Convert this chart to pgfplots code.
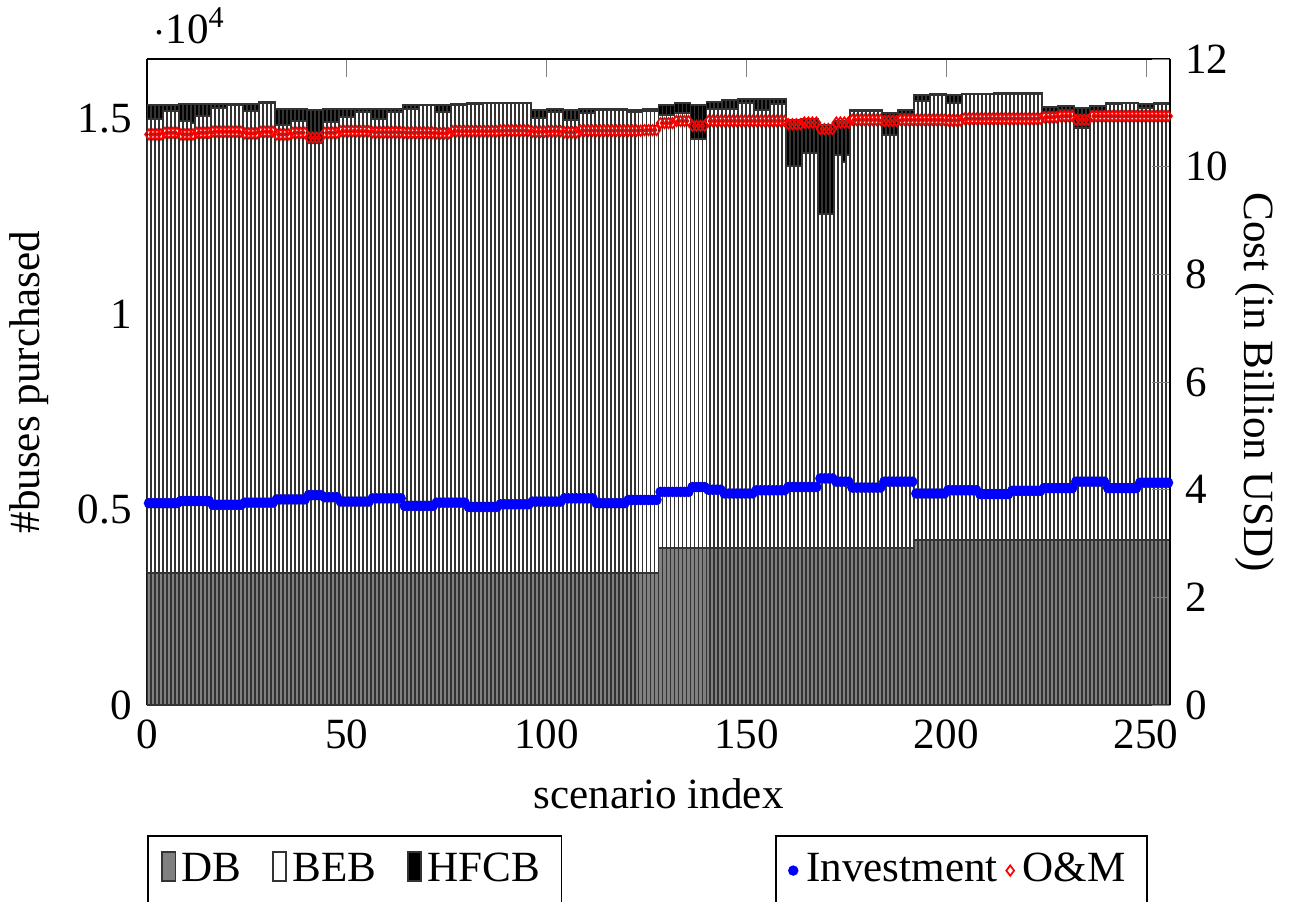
\documentclass[border=0pt]{standalone}
\usepackage{fontspec}
\setmainfont{Liberation Serif}
\usepackage{pgfplots}
\usepackage{pgfplotstable}
\pgfplotsset{compat=1.18}

% scenario results: fleet purchase by bus type and annualised costs (billion USD)
\pgfplotstableread{
x db beb hfcb inv om
0.5 3384 11603 358 3.75 10.60
1.5 3384 11603 358 3.75 10.60
2.5 3384 11603 358 3.75 10.60
3.5 3384 11603 358 3.75 10.60
4.5 3384 11808 153 3.75 10.63
5.5 3384 11808 153 3.75 10.63
6.5 3384 11808 153 3.75 10.63
7.5 3384 11808 153 3.75 10.63
8.5 3384 11552 435 3.79 10.60
9.5 3384 11552 435 3.79 10.60
10.5 3384 11552 435 3.79 10.60
11.5 3384 11501 486 3.79 10.60
12.5 3384 11687 300 3.79 10.63
13.5 3384 11687 300 3.79 10.63
14.5 3384 11687 300 3.79 10.63
15.5 3384 11687 300 3.79 10.63
16.5 3384 11884 103 3.72 10.65
17.5 3384 11884 103 3.72 10.65
18.5 3384 11884 103 3.72 10.65
19.5 3384 11884 103 3.72 10.65
20.5 3384 11979 25 3.72 10.65
21.5 3384 11979 25 3.72 10.65
22.5 3384 11979 25 3.72 10.65
23.5 3384 11979 25 3.72 10.65
24.5 3384 11808 179 3.76 10.62
25.5 3384 11808 179 3.76 10.62
26.5 3384 11808 179 3.76 10.62
27.5 3384 11808 179 3.76 10.62
28.5 3384 12030 15 3.76 10.65
29.5 3384 12030 15 3.76 10.65
30.5 3384 12030 15 3.76 10.65
31.5 3384 12030 15 3.76 10.65
32.5 3384 11450 427 3.82 10.60
33.5 3384 11450 427 3.82 10.60
34.5 3384 11450 427 3.82 10.60
35.5 3384 11450 427 3.82 10.60
36.5 3384 11552 307 3.82 10.63
37.5 3384 11552 307 3.82 10.63
38.5 3384 11552 307 3.82 10.63
39.5 3384 11552 307 3.82 10.63
40.5 3384 10989 844 3.90 10.54
41.5 3384 10989 844 3.90 10.54
42.5 3384 10989 844 3.90 10.54
43.5 3384 10989 844 3.90 10.54
44.5 3384 11526 333 3.86 10.63
45.5 3384 11526 333 3.86 10.63
46.5 3384 11526 333 3.86 10.63
47.5 3384 11526 333 3.86 10.63
48.5 3384 11662 197 3.78 10.66
49.5 3384 11662 197 3.78 10.66
50.5 3384 11662 197 3.78 10.66
51.5 3384 11662 197 3.78 10.66
52.5 3384 11782 95 3.78 10.66
53.5 3384 11782 95 3.78 10.66
54.5 3384 11782 95 3.78 10.66
55.5 3384 11782 95 3.78 10.66
56.5 3384 11603 256 3.84 10.64
57.5 3384 11603 256 3.84 10.64
58.5 3384 11603 256 3.84 10.64
59.5 3384 11603 256 3.84 10.64
60.5 3384 11782 95 3.84 10.64
61.5 3384 11782 95 3.84 10.64
62.5 3384 11782 95 3.84 10.64
63.5 3384 11782 95 3.84 10.64
64.5 3384 11877 102 3.70 10.63
65.5 3384 11877 102 3.70 10.63
66.5 3384 11877 102 3.70 10.63
67.5 3384 11877 102 3.70 10.63
68.5 3384 11961 18 3.70 10.63
69.5 3384 11961 18 3.70 10.63
70.5 3384 11961 18 3.70 10.63
71.5 3384 11961 18 3.70 10.63
72.5 3384 11790 189 3.76 10.62
73.5 3384 11790 189 3.76 10.62
74.5 3384 11790 189 3.76 10.62
75.5 3384 11790 189 3.76 10.62
76.5 3384 11979 15 3.76 10.66
77.5 3384 11979 15 3.76 10.66
78.5 3384 11979 15 3.76 10.66
79.5 3384 11979 15 3.76 10.66
80.5 3384 12004 8 3.68 10.66
81.5 3384 12004 8 3.68 10.66
82.5 3384 12004 8 3.68 10.66
83.5 3384 12004 8 3.68 10.66
84.5 3384 12010 8 3.68 10.66
85.5 3384 12010 8 3.68 10.66
86.5 3384 12010 8 3.68 10.66
87.5 3384 12010 8 3.68 10.66
88.5 3384 12016 8 3.73 10.67
89.5 3384 12016 8 3.73 10.67
90.5 3384 12016 8 3.73 10.67
91.5 3384 12016 8 3.73 10.67
92.5 3384 12026 8 3.73 10.67
93.5 3384 12026 8 3.73 10.67
94.5 3384 12026 8 3.73 10.67
95.5 3384 12026 8 3.73 10.67
96.5 3384 11636 197 3.78 10.65
97.5 3384 11636 197 3.78 10.65
98.5 3384 11636 197 3.78 10.65
99.5 3384 11636 197 3.78 10.65
100.5 3384 11790 69 3.78 10.66
101.5 3384 11790 69 3.78 10.66
102.5 3384 11790 69 3.78 10.66
103.5 3384 11790 69 3.78 10.66
104.5 3384 11577 256 3.84 10.64
105.5 3384 11577 256 3.84 10.64
106.5 3384 11577 256 3.84 10.64
107.5 3384 11577 256 3.84 10.64
108.5 3384 11774 85 3.84 10.67
109.5 3384 11774 85 3.84 10.67
110.5 3384 11774 85 3.84 10.67
111.5 3384 11774 85 3.84 10.67
112.5 3384 11841 18 3.75 10.67
113.5 3384 11841 18 3.75 10.67
114.5 3384 11841 18 3.75 10.67
115.5 3384 11841 18 3.75 10.67
116.5 3384 11841 18 3.75 10.67
117.5 3384 11841 18 3.75 10.67
118.5 3384 11841 18 3.75 10.67
119.5 3384 11841 18 3.75 10.67
120.5 3384 11790 51 3.81 10.67
121.5 3384 11790 51 3.81 10.67
122.5 3384 11790 51 3.81 10.67
123.5 3384 11790 51 3.81 10.67
124.5 3384 11826 33 3.81 10.68
125.5 3384 11826 33 3.81 10.68
126.5 3384 11826 33 3.81 10.68
127.5 3384 11826 33 3.81 10.68
128.5 4015 11074 274 3.96 10.81
129.5 4015 11074 274 3.96 10.81
130.5 4015 11074 274 3.96 10.81
131.5 4015 11074 274 3.96 10.81
132.5 4015 11143 256 3.96 10.85
133.5 4015 11143 256 3.96 10.85
134.5 4015 11143 256 3.96 10.85
135.5 4015 11143 256 3.96 10.85
136.5 4015 10478 852 4.05 10.76
137.5 4015 10478 852 4.05 10.76
138.5 4015 10478 852 4.05 10.76
139.5 4015 10478 852 4.05 10.76
140.5 4015 11228 186 4.00 10.85
141.5 4015 11228 186 4.00 10.85
142.5 4015 11228 186 4.00 10.85
143.5 4015 11228 186 4.00 10.85
144.5 4015 11246 212 3.93 10.85
145.5 4015 11246 212 3.93 10.85
146.5 4015 11246 212 3.93 10.85
147.5 4015 11246 212 3.93 10.85
148.5 4015 11399 84 3.93 10.85
149.5 4015 11399 84 3.93 10.85
150.5 4015 11399 84 3.93 10.85
151.5 4015 11399 84 3.93 10.85
152.5 4015 11202 281 3.99 10.85
153.5 4015 11202 281 3.99 10.85
154.5 4015 11202 281 3.99 10.85
155.5 4015 11202 281 3.99 10.85
156.5 4015 11374 127 3.99 10.85
157.5 4015 11374 127 3.99 10.85
158.5 4015 11374 127 3.99 10.85
159.5 4015 11374 127 3.99 10.85
160.5 4015 9778 1168 4.05 10.79
161.5 4015 9778 1168 4.05 10.79
162.5 4015 9778 1168 4.05 10.79
163.5 4015 9778 1168 4.05 10.79
164.5 4015 10120 870 4.05 10.82
165.5 4015 10120 870 4.05 10.82
166.5 4015 10120 870 4.05 10.82
167.5 4015 10120 870 4.05 10.82
168.5 4015 8560 2271 4.21 10.70
169.5 4015 8560 2271 4.21 10.70
170.5 4015 8560 2271 4.21 10.70
171.5 4015 8560 2271 4.21 10.70
172.5 4015 10069 852 4.15 10.82
173.5 4015 10069 852 4.15 10.82
174.5 4015 9880 1041 4.15 10.82
175.5 4015 10069 852 4.15 10.82
176.5 4015 11177 25 4.04 10.87
177.5 4015 11177 25 4.04 10.87
178.5 4015 11177 25 4.04 10.87
179.5 4015 11177 25 4.04 10.87
180.5 4015 11192 10 4.04 10.87
181.5 4015 11192 10 4.04 10.87
182.5 4015 11192 10 4.04 10.87
183.5 4015 11192 10 4.04 10.87
184.5 4015 10581 562 4.15 10.85
185.5 4015 10581 562 4.15 10.85
186.5 4015 10581 562 4.15 10.85
187.5 4015 10581 562 4.15 10.85
188.5 4015 11118 84 4.15 10.87
189.5 4015 11118 84 4.15 10.87
190.5 4015 11118 84 4.15 10.87
191.5 4015 11118 84 4.15 10.87
192.5 4220 11235 153 3.93 10.87
193.5 4220 11235 153 3.93 10.87
194.5 4220 11235 153 3.93 10.87
195.5 4220 11235 153 3.93 10.87
196.5 4220 11388 18 3.93 10.87
197.5 4220 11388 18 3.93 10.87
198.5 4220 11388 18 3.93 10.87
199.5 4220 11388 18 3.93 10.87
200.5 4220 11176 212 3.99 10.86
201.5 4220 11176 212 3.99 10.86
202.5 4220 11176 212 3.99 10.86
203.5 4220 11176 212 3.99 10.86
204.5 4220 11406 18 3.99 10.89
205.5 4220 11406 18 3.99 10.89
206.5 4220 11406 18 3.99 10.89
207.5 4220 11406 18 3.99 10.89
208.5 4220 11406 18 3.92 10.89
209.5 4220 11406 18 3.92 10.89
210.5 4220 11406 18 3.92 10.89
211.5 4220 11406 18 3.92 10.89
212.5 4220 11424 8 3.92 10.89
213.5 4220 11424 8 3.92 10.89
214.5 4220 11424 8 3.92 10.89
215.5 4220 11424 8 3.92 10.89
216.5 4220 11424 8 3.98 10.89
217.5 4220 11424 8 3.98 10.89
218.5 4220 11424 8 3.98 10.89
219.5 4220 11424 8 3.98 10.89
220.5 4220 11424 8 3.98 10.89
221.5 4220 11424 8 3.98 10.89
222.5 4220 11424 8 3.98 10.89
223.5 4220 11424 8 3.98 10.89
224.5 4220 10920 172 4.03 10.92
225.5 4220 10920 172 4.03 10.92
226.5 4220 10920 172 4.03 10.92
227.5 4220 10920 172 4.03 10.92
228.5 4220 11005 112 4.03 10.94
229.5 4220 11005 112 4.03 10.94
230.5 4220 11005 112 4.03 10.94
231.5 4220 11005 112 4.03 10.94
232.5 4220 10555 493 4.15 10.87
233.5 4220 10555 493 4.15 10.87
234.5 4220 10555 493 4.15 10.87
235.5 4220 10555 493 4.15 10.87
236.5 4220 10946 171 4.15 10.94
237.5 4220 10946 171 4.15 10.94
238.5 4220 10946 171 4.15 10.94
239.5 4220 10946 171 4.15 10.94
240.5 4220 11151 33 4.03 10.94
241.5 4220 11151 33 4.03 10.94
242.5 4220 11151 33 4.03 10.94
243.5 4220 11151 33 4.03 10.94
244.5 4220 11176 8 4.03 10.94
245.5 4220 11176 8 4.03 10.94
246.5 4220 11176 8 4.03 10.94
247.5 4220 11176 8 4.03 10.94
248.5 4220 11066 103 4.13 10.94
249.5 4220 11066 103 4.13 10.94
250.5 4220 11066 103 4.13 10.94
251.5 4220 11066 103 4.13 10.94
252.5 4220 11169 15 4.13 10.94
253.5 4220 11169 15 4.13 10.94
254.5 4220 11169 15 4.13 10.94
255.5 4220 11169 15 4.13 10.94
}\scen

\begin{document}
\begin{tikzpicture}
\begin{axis}[
  scale only axis, width=237.4pt, height=149.9pt,
  xmin=0, xmax=256, ymin=0, ymax=16530,
  axis y line*=left,
  xtick={0,50,...,250},
  ytick={0,5000,10000,15000},
  /pgf/number format/assume math mode=true,
  ytick scale label code/.code={\ensuremath{\cdot}10\textsuperscript{#1}},
  every y tick scale label/.style={at={(rel axis cs:0,1)}, anchor=base west, xshift=-2pt, yshift=3.7pt},
  xlabel={scenario index},
  ylabel={\#buses purchased},
  ybar stacked, bar width=1,
  legend image code/.code={\draw[#1] (0pt,-0.25em) rectangle (3.2pt,0.42em);},
  legend style={at={(0,-0.201)}, anchor=north west, legend columns=-1, draw=black, fill=white,
    /tikz/every odd column/.append style={column sep=-0.8pt},
    /tikz/every even column/.append style={column sep=5pt}},
]
\addplot[fill=gray, draw=black!80, line width=0.45pt] table[x=x, y=db] {\scen};
\addplot[fill=white, draw=black!80, line width=0.45pt] table[x=x, y=beb] {\scen};
\addplot[fill=black, draw=black!80, line width=0.45pt] table[x=x, y=hfcb] {\scen};
\legend{DB, BEB, HFCB}
\end{axis}
\begin{axis}[
  scale only axis, width=237.4pt, height=149.9pt,
  xmin=0, xmax=256, ymin=0, ymax=12,
  axis x line=none, axis y line*=right,
  ytick={0,2,...,12},
  /pgf/number format/assume math mode=true,
  ylabel={Cost (in Billion USD)},
  ylabel style={at={([xshift=19.7pt]rel axis cs:1,0.5)}, anchor=center, rotate=180},
  legend image code/.code={\draw[mark repeat=2, mark phase=2, #1] plot coordinates {(0pt,0pt) (2pt,0pt) (4pt,0pt)};},
  legend style={at={(0.9785,-0.201)}, anchor=north east, legend columns=-1, draw=black, fill=white},
]
\addplot[only marks, mark=*, blue, mark size=1.0pt] table[x=x, y=inv] {\scen};
\addplot[only marks, mark=diamond, red, mark size=1.2pt] table[x=x, y=om] {\scen};
\legend{Investment, O\&M}
\end{axis}
\pgfresetboundingbox
\useasboundingbox (-34.1pt,-45.5pt) rectangle (265pt,163.6pt);
\end{tikzpicture}
\end{document}
